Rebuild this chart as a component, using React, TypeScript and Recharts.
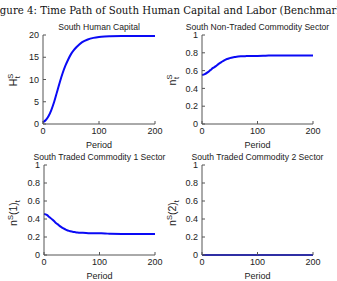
import { LineChart, Line, XAxis, YAxis } from 'recharts'

// sample periods shared by every series
const periods = [0, 5, 10, 15, 20, 25, 30, 35, 40, 45, 50, 55, 60, 70, 80, 90, 100, 110, 120, 140, 160, 180, 200]

const humanCapital = [0.4, 0.9, 1.8, 3.2, 5.0, 7.2, 9.4, 11.4, 13.1, 14.5, 15.7, 16.6, 17.3, 18.4, 19.0, 19.35, 19.55, 19.65, 19.7, 19.75, 19.75, 19.75, 19.75]
const nonTraded = [0.55, 0.56, 0.58, 0.605, 0.63, 0.65, 0.675, 0.695, 0.715, 0.73, 0.74, 0.748, 0.753, 0.76, 0.763, 0.765, 0.765, 0.766, 0.77, 0.77, 0.77, 0.77, 0.77]
const traded1 = [0.455, 0.445, 0.42, 0.395, 0.365, 0.34, 0.315, 0.295, 0.28, 0.268, 0.26, 0.255, 0.25, 0.246, 0.243, 0.242, 0.241, 0.24, 0.235, 0.234, 0.234, 0.233, 0.233]
const traded2 = [0, 0, 0, 0, 0, 0, 0, 0, 0, 0, 0, 0, 0, 0, 0, 0, 0, 0, 0, 0, 0, 0, 0]

const xTicks = [0, 100, 200]
const hTicks = [0, 5, 10, 15, 20]
const shareTicks = [0, 0.2, 0.4, 0.6, 0.8, 1]

const FONT = '"Liberation Sans", Arial, sans-serif'
const BOX = '#555'
const INK = '#222'
const BLUE = '#0a0af5'

type Box = { x0: number; y0: number; x1: number; y1: number }

const YW = 45
const XH = 25
const PAD_T = 8
const PAD_R = 16

const noTick = () => <g />

function Panel({ box, values, yMax, yTicks }: { box: Box; values: number[]; yMax: number; yTicks: number[] }) {
  const data = periods.map((t, i) => ({ t, v: values[i] }))
  const width = box.x1 - box.x0 + YW + PAD_R
  const height = box.y1 - box.y0 + PAD_T + XH
  const tickStyle = { fontSize: 9, fill: INK, fontFamily: FONT }
  return (
    <div style={{ position: 'absolute', left: box.x0 - YW, top: box.y0 - PAD_T }}>
      <LineChart width={width} height={height} data={data} margin={{ top: PAD_T, right: PAD_R, left: 0, bottom: 0 }}>
        <XAxis dataKey="t" type="number" domain={[0, 200]} ticks={xTicks} height={XH}
          tickSize={-3} tickMargin={7} stroke={BOX} tick={tickStyle} interval={0} />
        <XAxis xAxisId="top" orientation="top" dataKey="t" type="number" domain={[0, 200]} ticks={xTicks}
          height={0} tickSize={-3} stroke={BOX} tick={noTick} />
        <YAxis type="number" domain={[0, yMax]} ticks={yTicks} width={YW} tickSize={-3} tickMargin={7}
          stroke={BOX} tick={tickStyle} interval={0} />
        <YAxis yAxisId="right" orientation="right" type="number" domain={[0, yMax]} ticks={yTicks} width={0}
          tickSize={-3} stroke={BOX} tick={noTick} />
        <Line dataKey="v" type="monotone" stroke={BLUE} strokeWidth={2} dot={false} isAnimationActive={false} />
      </LineChart>
    </div>
  )
}

const panels: { box: Box; values: number[]; yMax: number; yTicks: number[]; title: string }[] = [
  { box: { x0: 43, y0: 35, x1: 155, y1: 124 }, values: humanCapital, yMax: 20, yTicks: hTicks, title: 'South Human Capital' },
  { box: { x0: 202, y0: 35, x1: 313, y1: 124 }, values: nonTraded, yMax: 1, yTicks: shareTicks, title: 'South Non-Traded Commodity Sector' },
  { box: { x0: 44, y0: 165, x1: 155, y1: 255 }, values: traded1, yMax: 1, yTicks: shareTicks, title: 'South Traded Commodity 1 Sector' },
  { box: { x0: 202, y0: 165, x1: 313, y1: 255 }, values: traded2, yMax: 1, yTicks: shareTicks, title: 'South Traded Commodity 2 Sector' },
]

// rotated y labels: base letter, superscript, middle text, subscript
function YLabel({ x, y, base, sup, mid, sub }: { x: number; y: number; base: string; sup: string; mid?: string; sub: string }) {
  return (
    <text transform={`translate(${x},${y}) rotate(-90)`} textAnchor="middle" fontSize={10.5} fill={INK} fontFamily={FONT}>
      {base}
      <tspan fontSize={7.5} dy={-4.5}>{sup}</tspan>
      {mid ? <tspan fontSize={10.5} dy={4.5}>{mid}</tspan> : null}
      {mid ? <tspan fontSize={7.5} dy={2.5}>{sub}</tspan> : <tspan fontSize={7.5} dx={-4.5} dy={7}>{sub}</tspan>}
    </text>
  )
}

export default function App() {
  return (
    <div style={{ position: 'absolute', left: 0, top: 0, width: 337, height: 281, background: '#fff', overflow: 'hidden' }}>
      {panels.map((p) => (
        <Panel key={p.title} box={p.box} values={p.values} yMax={p.yMax} yTicks={p.yTicks} />
      ))}
      <svg width={337} height={281} style={{ position: 'absolute', left: 0, top: 0, pointerEvents: 'none' }}>
        <text x={-10.5} y={13.5} fontSize={10.2} fontFamily='"DejaVu Serif", serif' fill="#111">
          Figure 4: Time Path of South Human Capital and Labor (Benchmark)
        </text>
        {panels.map((p) => (
          <text key={p.title} x={(p.box.x0 + p.box.x1) / 2} y={p.box.y0 - 5.5} textAnchor="middle"
            fontSize={8.6} fill={INK} fontFamily={FONT}>{p.title}</text>
        ))}
        {panels.map((p) => (
          <text key={p.title + 'x'} x={(p.box.x0 + p.box.x1) / 2} y={p.box.y1 + 24} textAnchor="middle"
            fontSize={9} fill={INK} fontFamily={FONT}>Period</text>
        ))}
        <YLabel x={17} y={80} base="H" sup="S" sub="t" />
        <YLabel x={176} y={80} base="n" sup="S" sub="t" />
        <YLabel x={17} y={213} base="n" sup="S" mid="(1)" sub="t" />
        <YLabel x={176} y={213} base="n" sup="S" mid="(2)" sub="t" />
      </svg>
    </div>
  )
}
